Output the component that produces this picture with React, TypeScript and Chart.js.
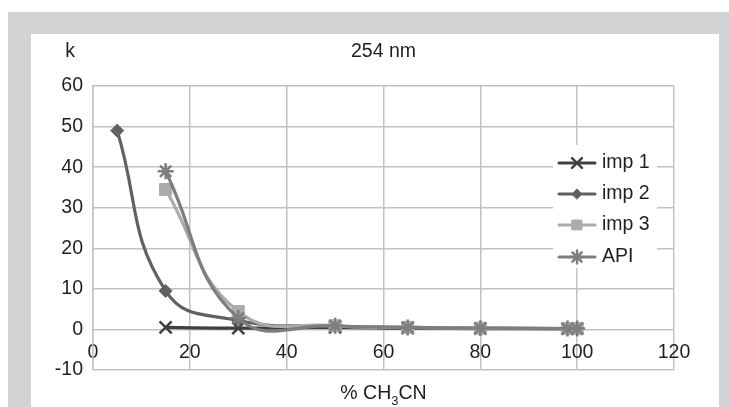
import React, { useEffect, useRef } from "react";
import { Chart, registerables } from "chart.js";
import { drawPoint } from "chart.js/helpers";

Chart.register(...registerables);

const seriesNames = ["imp 1", "imp 2", "imp 3", "API"];
const imp1X = [15, 30, 50, 65, 80, 98, 100];
const imp1Y = [0.5, 0.3, 0.5, 0.3, 0.2, 0.2, 0.2];
const imp2X = [5, 15, 30, 50, 65, 80, 98, 100];
const imp2Y = [49, 9.5, 2.2, 0.8, 0.5, 0.3, 0.2, 0.2];
const imp3X = [15, 30, 50, 65, 80, 98, 100];
const imp3Y = [34.5, 4.4, 0.9, 0.5, 0.3, 0.2, 0.2];
const apiX = [15, 30, 50, 65, 80, 98, 100];
const apiY = [39, 2.8, 0.9, 0.5, 0.3, 0.2, 0.2];

const xTicksMin = 0;
const xTicksMax = 120;
const xStep = 20;
const yTicksMin = -10;
const yTicksMax = 60;
const yStep = 10;

const titleText = "254 nm";
const yTitleText = "k";

const FONT = "'Liberation Sans', Arial, sans-serif";
const FS = 19.5;
const TEXT = "#231f20";

const toPts = (xs: number[], ys: number[]) => xs.map((x, i) => ({ x, y: ys[i] }));

const styles = [
  { color: "#404040", point: "crossRot", radius: 8.5, bw: 2.5, order: 4, lr: 7 },
  { color: "#616161", point: "rectRot", radius: 6.5, bw: 1, order: 3, lr: 5 },
  { color: "#ababab", point: "rect", radius: 8.5, bw: 1, order: 2, lr: 7 },
  { color: "#7e7e7e", point: "star", radius: 8, bw: 2.5, order: 1, lr: 6.5 },
];

const overlayPlugin = {
  id: "overlay",
  afterDraw(chart: any) {
    const ctx = chart.ctx;
    const area = chart.chartArea;
    ctx.save();
    ctx.fillStyle = TEXT;
    ctx.font = `${FS}px ${FONT}`;
    ctx.textBaseline = "middle";
    ctx.textAlign = "center";
    ctx.fillText(yTitleText, 70, 52);
    ctx.fillText(titleText, (area.left + area.right) / 2, 52);
    // x axis title with subscript
    const p1 = "% CH";
    const sub = "3";
    const p2 = "CN";
    ctx.font = `${FS}px ${FONT}`;
    const w1 = ctx.measureText(p1).width;
    const w3 = ctx.measureText(p2).width;
    ctx.font = `13px ${FONT}`;
    const w2 = ctx.measureText(sub).width;
    const total = w1 + w2 + w3;
    let x = (area.left + area.right) / 2 - total / 2;
    const y = 394;
    ctx.textAlign = "left";
    ctx.font = `${FS}px ${FONT}`;
    ctx.fillText(p1, x, y);
    x += w1;
    ctx.font = `13px ${FONT}`;
    ctx.fillText(sub, x, y + 7);
    x += w2;
    ctx.font = `${FS}px ${FONT}`;
    ctx.fillText(p2, x, y);

    // legend
    ctx.fillStyle = "#ffffff";
    ctx.fillRect(553, 145, 104, 123);
    const rows = [163, 194, 225, 257];
    chart.data.datasets.forEach((ds: any, i: number) => {
      const ry = rows[i];
      ctx.strokeStyle = ds.borderColor;
      ctx.lineWidth = 3;
      ctx.lineCap = "round";
      ctx.beginPath();
      ctx.moveTo(559, ry);
      ctx.lineTo(595, ry);
      ctx.stroke();
      ctx.fillStyle = ds.pointBackgroundColor;
      ctx.strokeStyle = ds.pointBorderColor;
      ctx.lineWidth = ds.pointBorderWidth;
      drawPoint(ctx, { pointStyle: ds.pointStyle, radius: styles[i].lr, rotation: 0, borderWidth: ds.pointBorderWidth }, 577, ry);
      ctx.fillStyle = TEXT;
      ctx.font = `${FS}px ${FONT}`;
      ctx.textAlign = "left";
      ctx.textBaseline = "middle";
      ctx.fillText(ds.label, 602, ry);
    });
    ctx.restore();
  },
};

export default function App() {
  const ref = useRef<HTMLCanvasElement>(null);
  useEffect(() => {
    if (!ref.current) return;
    const pts = [toPts(imp1X, imp1Y), toPts(imp2X, imp2Y), toPts(imp3X, imp3Y), toPts(apiX, apiY)];
    const chart = new Chart(ref.current, {
      type: "line",
      data: {
        datasets: pts.map((d, i) => ({
          label: seriesNames[i],
          data: d,
          borderColor: styles[i].color,
          backgroundColor: styles[i].color,
          pointBackgroundColor: styles[i].color,
          pointBorderColor: styles[i].color,
          pointStyle: styles[i].point,
          pointRadius: styles[i].radius,
          pointBorderWidth: styles[i].bw,
          borderWidth: 3.2,
          tension: 0.45,
          order: styles[i].order,
          fill: false,
        })),
      },
      options: {
        animation: false,
        responsive: false,
        devicePixelRatio: 1,
        layout: { padding: { left: 33, right: 55, top: 86, bottom: 37 } },
        plugins: { legend: { display: false }, tooltip: { enabled: false }, title: { display: false } },
        scales: {
          x: {
            type: "linear",
            position: { y: 0 },
            min: xTicksMin,
            max: xTicksMax,
            ticks: { stepSize: xStep, color: TEXT, font: { family: FONT, size: FS }, padding: 11, maxRotation: 0 },
            grid: { color: "#c2c2c2", lineWidth: 1.5, drawTicks: false },
            border: { display: false },
            afterFit: (s: any) => { s.height = 0; },
          },
          y: {
            type: "linear",
            position: "left",
            min: yTicksMin,
            max: yTicksMax,
            ticks: { stepSize: yStep, color: TEXT, font: { family: FONT, size: FS }, padding: 10 },
            grid: { color: "#c2c2c2", lineWidth: 1.5, drawTicks: false },
            border: { display: true, color: "#c2c2c2", width: 1.5 },
            afterFit: (s: any) => { s.width = 60; },
          },
        },
      },
      plugins: [overlayPlugin],
    } as any);
    return () => chart.destroy();
  }, []);

  return (
    <div style={{ position: "fixed", left: 0, top: 0, width: 729, height: 407, background: "#ffffff", overflow: "hidden" }}>
      <div style={{ position: "absolute", left: 8, top: 12, width: 721, height: 395, background: "#d1d3d4" }} />
      <div style={{ position: "absolute", left: 31, top: 34, width: 688, height: 373, background: "#ffffff" }} />
      <canvas ref={ref} width={729} height={407} style={{ position: "absolute", left: 0, top: 0, width: 729, height: 407 }} />
    </div>
  );
}
